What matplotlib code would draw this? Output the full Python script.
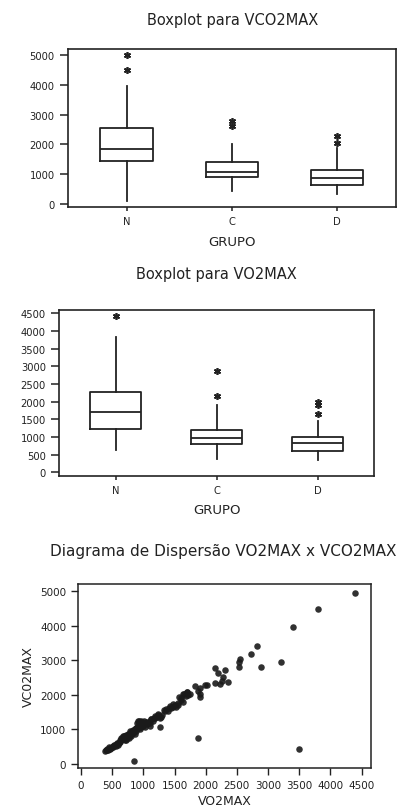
#!/usr/bin/env python3

import numpy as np
from matplotlib import pyplot as plt

# boxplot summaries
groups = ["N", "C", "D"]

vco2_q1 = [1450, 900, 630]
vco2_med = [1830, 1060, 870]
vco2_q3 = [2540, 1400, 1130]
vco2_lo = [100, 430, 330]
vco2_hi = [3950, 2000, 1870]
vco2_out = [[4500, 4980], [2620, 2780], [2060, 2270]]

vo2_q1 = [1230, 790, 610]
vo2_med = [1700, 970, 830]
vo2_q3 = [2270, 1210, 1010]
vo2_lo = [620, 380, 350]
vo2_hi = [3820, 1900, 1460]
vo2_out = [[4420], [2150, 2870], [1650, 1890, 1990]]

# scatter points (VO2MAX, VCO2MAX)
vo2 = [380, 395, 410, 420, 430, 445, 460, 470, 480, 500, 510, 520, 540, 555,
       570, 590, 600, 615, 630, 640, 650, 660, 670, 680, 690, 700, 705, 710,
       720, 730, 740, 750, 760, 770, 780, 790, 800, 810, 820, 830, 840, 850,
       860, 870, 880, 890, 900, 905, 910, 920, 930, 940, 950, 960, 970, 980,
       990, 1000, 1010, 1020, 1040, 1060, 1080, 1100, 1110, 1130, 1150, 1170,
       1190, 1210, 1230, 1250, 1270, 1300, 1330, 1360, 1390, 1420, 1440, 1470,
       1500, 1520, 1560, 1580, 1600, 1640, 1660, 1700, 1747, 1694, 1640, 1828,
       1880, 1908, 1908, 1908, 1988, 2015, 2148, 2228, 2255, 2281, 2201, 2308,
       2148, 2362, 2528, 2538, 2549, 2725, 2826, 2881, 3206, 3403, 3800, 4400,
       3500, 1880, 1266, 850, 650, 690, 760, 800, 860, 940, 1000, 1050, 1120,
       450, 530, 580, 620, 730, 780, 880, 960, 1180, 1240, 1290, 1350, 1410,
       1480, 1550, 1610, 1680, 1720]
vco2 = [370, 400, 390, 420, 410, 440, 450, 430, 470, 490, 480, 520, 540, 530,
        570, 560, 610, 620, 640, 700, 680, 750, 720, 800, 760, 690, 820, 740,
        780, 700, 760, 810, 850, 740, 830, 900, 870, 800, 940, 980, 900, 960,
        1000, 880, 1040, 950, 1200, 1010, 1250, 1100, 1240, 1000, 1150, 1230,
        1060, 1200, 1100, 1130, 1240, 1060, 1180, 1150, 1220, 1200, 1100, 1300,
        1250, 1330, 1400, 1350, 1450, 1380, 1330, 1420, 1560, 1600, 1540, 1680,
        1620, 1650, 1700, 1660, 1760, 1950, 1850, 1800, 2030, 2080, 2029, 2077,
        2029, 2251, 2126, 2194, 2029, 1932, 2290, 2290, 2338, 2319, 2415, 2512,
        2638, 2733, 2773, 2367, 2802, 2947, 3043, 3188, 3429, 2802, 2965, 3962,
        4500, 4950, 430, 754, 1063, 100, 760, 820, 880, 920, 1010, 1060, 1160,
        1220, 1290, 480, 560, 620, 680, 850, 940, 1030, 1120, 1320, 1410, 1370,
        1520, 1620, 1730, 1700, 1900, 1980, 2010]


def draw_box(ax, q1, med, q3, lo, hi, out):
    stats = []
    for i in range(len(groups)):
        stats.append({"q1": q1[i], "med": med[i], "q3": q3[i],
                      "whislo": lo[i], "whishi": hi[i], "fliers": out[i]})
    line = dict(color="#222222", linewidth=1.3)
    ax.bxp(stats, positions=[1, 2, 3], widths=0.5, showcaps=False,
           boxprops=line, whiskerprops=line, medianprops=line,
           flierprops=dict(marker=(6, 2, 0), markersize=5,
                           markeredgecolor="#222222", markeredgewidth=1.2,
                           linestyle="none"))
    ax.set_xlim(0.44, 3.56)
    ax.set_xticks([1, 2, 3])
    ax.set_xticklabels(groups)
    for s in ax.spines.values():
        s.set_linewidth(1.2)
        s.set_color("#222222")
    ax.tick_params(direction="out", length=6, width=1.1, labelsize=7.2,
                   colors="#222222")
    ax.tick_params(axis="x", length=3)


fig = plt.figure(figsize=(4.04, 8.12), dpi=100)

ax1 = fig.add_axes([0.168, 0.7435, 0.812, 0.195])
draw_box(ax1, vco2_q1, vco2_med, vco2_q3, vco2_lo, vco2_hi, vco2_out)
ax1.set_ylim(-110, 5200)
ax1.set_yticks(np.arange(0, 5001, 1000))
ax1.set_xlabel("GRUPO", fontsize=9.5, color="#222222", labelpad=6)
fig.text(0.575, 1 - 21 / 812, "Boxplot para VCO2MAX", ha="center",
         va="center", fontsize=10.5, color="#222222")

ax2 = fig.add_axes([0.146, 0.4126, 0.780, 0.2044])
draw_box(ax2, vo2_q1, vo2_med, vo2_q3, vo2_lo, vo2_hi, vo2_out)
ax2.set_ylim(-105, 4593)
ax2.set_yticks(np.arange(0, 4501, 500))
ax2.set_xlabel("GRUPO", fontsize=9.5, color="#222222", labelpad=6)
fig.text(0.535, 1 - 275 / 812, "Boxplot para VO2MAX", ha="center",
         va="center", fontsize=10.5, color="#222222")

ax3 = fig.add_axes([0.193, 0.053, 0.725, 0.2266])
ax3.scatter(vo2, vco2, s=22, color="#1a1a1a", alpha=0.9, linewidths=0)
ax3.set_xlim(-48, 4649)
ax3.set_ylim(-116, 5211)
ax3.set_xticks(np.arange(0, 4501, 500))
ax3.set_yticks(np.arange(0, 5001, 1000))
ax3.set_xlabel("VO2MAX", fontsize=9, color="#222222", labelpad=3)
ax3.set_ylabel("VC02MAX", fontsize=9, color="#222222", labelpad=4)
for s in ax3.spines.values():
    s.set_linewidth(1.1)
    s.set_color("#222222")
ax3.tick_params(direction="out", length=5, width=1.0, labelsize=7.5,
                colors="#222222")
fig.text(0.552, 1 - 552 / 812, "Diagrama de Dispersão VO2MAX x VCO2MAX",
         ha="center", va="center", fontsize=11, color="#222222")

fig.savefig("out.png", dpi=100)
